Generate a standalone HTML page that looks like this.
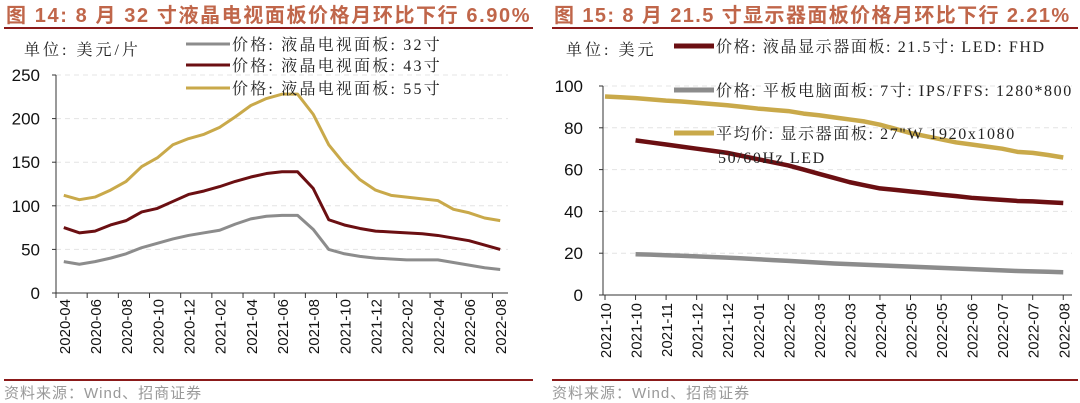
<!DOCTYPE html>
<html><head><meta charset="utf-8">
<style>
body{margin:0;background:#fff;}
svg{display:block;}
.t{font-family:"Liberation Sans","Noto Sans CJK SC",sans-serif;}
.s{font-family:"Liberation Serif","Noto Serif CJK SC",serif;}
</style></head>
<body>
<svg id="c" width="1080" height="403" viewBox="0 0 1080 403" xmlns="http://www.w3.org/2000/svg">
<text x="6" y="22" class="t" font-size="20" font-weight="bold" letter-spacing="1.6" fill="#c0664a">图 14:  8 月 32 寸液晶电视面板价格月环比下行 6.90%</text>
<line x1="4" y1="28" x2="533" y2="28" stroke="#8b1a1a" stroke-width="2"/>
<text x="554" y="22" class="t" font-size="20" font-weight="bold" letter-spacing="1.4" fill="#c0664a">图 15:  8 月 21.5 寸显示器面板价格月环比下行 2.21%</text>
<line x1="552" y1="28" x2="1078" y2="28" stroke="#8b1a1a" stroke-width="2"/>
<line x1="4" y1="380" x2="533" y2="380" stroke="#8b1a1a" stroke-width="2"/>
<line x1="552" y1="380" x2="1078" y2="380" stroke="#8b1a1a" stroke-width="2"/>
<text x="4" y="398" class="t" font-size="15" letter-spacing="1" fill="#999">资料来源：Wind、招商证券</text>
<text x="552" y="398" class="t" font-size="15" letter-spacing="1" fill="#999">资料来源：Wind、招商证券</text>
<text x="24" y="55" class="s" font-size="16" letter-spacing="3" fill="#222">单位:  美元/片</text>
<text x="566" y="55" class="s" font-size="16" letter-spacing="3" fill="#222">单位:  美元</text>
<g id="L"></g><g id="R"></g>
</svg>
<script>
const leftCats=["2020-04","2020-05","2020-06","2020-07","2020-08","2020-09","2020-10","2020-11","2020-12","2021-01","2021-02","2021-03","2021-04","2021-05","2021-06","2021-07","2021-08","2021-09","2021-10","2021-11","2021-12","2022-01","2022-02","2022-03","2022-04","2022-05","2022-06","2022-07","2022-08"];
const leftTicks=[0,50,100,150,200,250];
const tv32=[36,33,36,40,45,52,57,62,66,69,72,79,85,88,89,89,73,50,45,42,40,39,38,38,38,35,32,29,27];
const tv43=[75,69,71,78,83,93,97,105,113,117,122,128,133,137,139,139,120,84,78,74,71,70,69,68,66,63,60,55,50];
const tv55=[112,107,110,118,128,145,155,170,177,182,190,202,215,223,228,228,205,170,148,130,118,112,110,108,106,96,92,86,83];
const leftNames=["价格: 液晶电视面板: 32寸","价格: 液晶电视面板: 43寸","价格: 液晶电视面板: 55寸"];

const rightLabels=["2021-10","2021-10","2021-11","2021-12","2021-12","2022-01","2022-02","2022-03","2022-03","2022-04","2022-05","2022-05","2022-06","2022-07","2022-07","2022-08"];
const rightTicks=[0,20,40,60,80,100];
const mon27=[95,94.6,94.2,93.6,93,92.6,92,91.4,90.8,90,89.2,88.6,88,86.8,86,85,84,83,81.5,79.5,77.5,76,74.5,73,72,71,70,68.5,68,67,65.8];
const mon215=[74,73,72,71,70,69,68,66.5,65,63.5,62,60,58,56,54,52.5,51,50.3,49.5,48.8,48,47.3,46.5,46,45.5,45,44.8,44.4,44];
const tab7=[19.5,19.3,19,18.8,18.5,18.2,17.9,17.5,17.1,16.7,16.3,15.9,15.5,15.1,14.8,14.5,14.2,13.9,13.6,13.3,13,12.7,12.4,12.1,11.8,11.5,11.3,11.1,10.9];
const rightNames=["价格: 液晶显示器面板: 21.5寸: LED: FHD","价格: 平板电脑面板: 7寸: IPS/FFS: 1280*800","平均价: 显示器面板: 27\"W 1920x1080"];

const NS="http://www.w3.org/2000/svg";
function mk(p,tag,a){const e=document.createElementNS(NS,tag);for(const k in a)e.setAttribute(k,a[k]);p.appendChild(e);return e;}

// LEFT
(function(){
const g=document.getElementById('L');
const x0=56,x1=508,y0=293,y1=75,n=leftCats.length,w=(x1-x0)/n;
const X=i=>x0+(i+0.5)*w, Y=v=>y0-(v/250)*(y0-y1);
leftTicks.forEach(v=>{
 if(v>0){const l=mk(g,'line',{x1:x0,x2:x1,y1:Y(v),y2:Y(v),stroke:'#e4e4e4','stroke-dasharray':'5,4'});
 
 }
 const t=mk(g,'text',{x:40,y:Y(v)+6,'text-anchor':'end','font-size':17,class:'t',fill:'#111'});t.textContent=v;
 
 
 mk(g,'line',{x1:x0-4,x2:x0,y1:Y(v),y2:Y(v),stroke:'#333'});
});
const ax=mk(g,'path',{d:`M${x0},${y1}V${y0}H${x1}`,stroke:'#333',fill:'none','stroke-width':1});


leftCats.forEach((c,i)=>{
 if(i%2)return;
 mk(g,'line',{x1:x0+i*w,x2:x0+i*w,y1:y0,y2:y0+5,stroke:'#333'});
 const t=mk(g,'text',{transform:`translate(${X(i)+6},${y0+6}) rotate(-90)`,'text-anchor':'end','font-size':15,class:'t',fill:'#111'});t.textContent=c;
 
 
});
const series=[[tv32,'#8c8c8c'],[tv43,'#6b0f12'],[tv55,'#c9a94a']];
series.forEach((s,k)=>{
 const p=mk(g,'polyline',{points:s[0].map((v,i)=>X(i)+','+Y(v)).join(' '),fill:'none',stroke:s[1],'stroke-width':3,'stroke-linejoin':'round'});
 
 
 const ly=[44,65,88][k];
 mk(g,'line',{x1:186,x2:230,y1:ly,y2:ly,stroke:s[1],'stroke-width':3});
 const t=mk(g,'text',{x:232,y:ly+6,'font-size':16,'letter-spacing':2.2,class:'s',fill:'#222'});t.textContent=leftNames[k];
 
 
});
})();

// RIGHT
(function(){
const g=document.getElementById('R');
const x0=603,x1=1072,y0=295,y1=86,step=30.55,xs=605;
const X=t=>xs+t*step, Y=v=>y0-(v/100)*(y0-y1);
rightTicks.forEach(v=>{
 if(v>0){const l=mk(g,'line',{x1:x0,x2:x1,y1:Y(v),y2:Y(v),stroke:'#e4e4e4','stroke-dasharray':'5,4'});
 
 }
 const t=mk(g,'text',{x:583,y:Y(v)+6,'text-anchor':'end','font-size':17,class:'t',fill:'#111'});t.textContent=v;
 
 
 mk(g,'line',{x1:x0-4,x2:x0,y1:Y(v),y2:Y(v),stroke:'#333'});
});
const ax=mk(g,'path',{d:`M${x0},${y1}V${y0}H${x1}`,stroke:'#333',fill:'none','stroke-width':1});


rightLabels.forEach((c,i)=>{
 mk(g,'line',{x1:X(i),x2:X(i),y1:y0,y2:y0+5,stroke:'#333'});
 const t=mk(g,'text',{transform:`translate(${X(i)+6},${y0+8}) rotate(-90)`,'text-anchor':'end','font-size':15,class:'t',fill:'#111'});t.textContent=c;
 
 
});
const series=[[mon215,'#6b0f12',1],[tab7,'#8c8c8c',1],[mon27,'#c9a94a',0]];
series.forEach((s,k)=>{
 const p=mk(g,'polyline',{points:s[0].map((v,i)=>X(s[2]+i*0.5)+','+Y(v)).join(' '),fill:'none',stroke:s[1],'stroke-width':4.5,'stroke-linejoin':'round'});
 
 
 const ly=[46,90,133][k];
 mk(g,'line',{x1:674,x2:714,y1:ly,y2:ly,stroke:s[1],'stroke-width':5});
 const t=mk(g,'text',{x:716,y:ly+6,'font-size':16,'letter-spacing':1.6,class:'s',fill:'#222'});t.textContent=rightNames[k];
 
 
});
const t2=mk(g,'text',{x:718,y:163,'font-size':16,'letter-spacing':1.6,class:'s',fill:'#222'});t2.textContent="50/60Hz LED";


})();
</script>
</body></html>
